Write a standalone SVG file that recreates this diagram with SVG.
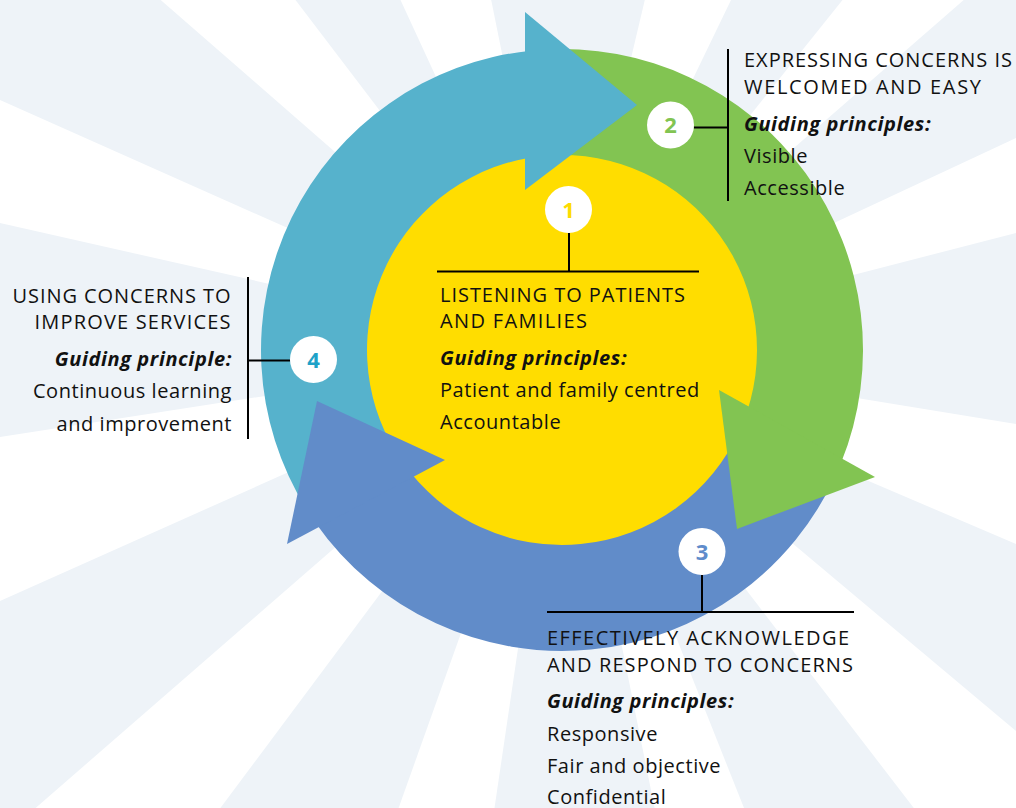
<svg xmlns="http://www.w3.org/2000/svg" width="1016" height="808" viewBox="0 0 1016 808">
  <defs>
    <style>
      .ray { fill: #eef3f8; }
      .lead { stroke: #000; stroke-width: 2; fill: none; }
      .badge { fill: #fff; }
      .num { font-family: "Open Sans", "Noto Sans", sans-serif; font-size: 22px; font-weight: bold; text-anchor: middle; }
      .txt { font-family: "Open Sans", "Noto Sans", sans-serif; font-size: 20px; fill: #111; }
      .head { letter-spacing: 1px; }
      .body { letter-spacing: 0.55px; }
      .gp { font-weight: bold; font-style: italic; letter-spacing: 0.6px; }
      .end { text-anchor: end; }
    </style>
  </defs>

  <rect width="1016" height="808" fill="#fff"/>

  <!-- sunburst background -->
  <g id="rays">
    <polygon class="ray" points="562,350 963.7,0 1016,0 1016,138"/>
    <polygon class="ray" points="562,350 1016,233 1016,424"/>
    <polygon class="ray" points="562,350 1016,544 1016,731"/>
    <polygon class="ray" points="562,350 913.8,808 744,808"/>
    <polygon class="ray" points="562,350 654.6,808 494.5,808"/>
    <polygon class="ray" points="562,350 398.6,808 220.4,808"/>
    <polygon class="ray" points="562,350 35.6,808 0,808 0,601"/>
    <polygon class="ray" points="562,350 0,437 0,223"/>
    <polygon class="ray" points="562,350 0,100 0,0 160.7,0"/>
    <polygon class="ray" points="562,350 295.5,0 400.5,0"/>
    <polygon class="ray" points="562,350 491.2,0 644.8,0"/>
    <polygon class="ray" points="562,350 731,0 842.5,0"/>
  </g>

  <!-- centre disc -->
  <circle id="core" cx="562" cy="350" r="196" fill="#ffdd00"/>

  <!-- cycle ring: three arc bands, then their arrowheads -->
  <g id="ring">
    <path fill="#56b2cc" d="M306.74,509.51 A301,301 0 0 1 530.54,50.65 L541.62,156.07 A195,195 0 0 0 396.63,453.33 Z"/>
    <path fill="#82c452" d="M541.00,49.73 A301,301 0 0 1 841.08,462.76 L742.80,423.05 A195,195 0 0 0 548.40,155.47 Z"/>
    <path fill="#618cc9" d="M836.98,472.43 A301,301 0 0 1 315.44,522.65 L402.27,461.85 A195,195 0 0 0 740.14,429.31 Z"/>
    <polygon fill="#56b2cc" points="525,12 637,105 525,190"/>
    <polygon fill="#82c452" points="719,390 875,477 737,529"/>
    <polygon fill="#618cc9" points="445,460 287,544 317,401"/>
  </g>

  <!-- leader lines from badges to their captions -->
  <g id="connectors">
    <path class="lead" d="M569,233 V271.5 M437,271.5 H699"/>
    <path class="lead" d="M694,127.5 H728 M728,49 V201"/>
    <path class="lead" d="M702,575 V612 M547,612 H854"/>
    <path class="lead" d="M290,360.5 H248 M248,277 V439"/>
  </g>

  <g id="node-1">
    <circle class="badge" cx="568.5" cy="209.5" r="23.5"/>
    <text class="num" x="568.5" y="217.5" fill="#fddc00">1</text>
    <text class="txt head" x="440" y="301.5" textLength="246" lengthAdjust="spacing">LISTENING TO PATIENTS</text>
    <text class="txt head" x="440" y="328" textLength="148" lengthAdjust="spacing">AND FAMILIES</text>
    <text class="txt gp" x="440" y="365">Guiding principles:</text>
    <text class="txt body" x="440" y="397">Patient and family centred</text>
    <text class="txt body" x="440" y="429">Accountable</text>
  </g>

  <g id="node-2">
    <circle class="badge" cx="670.5" cy="125" r="23.5"/>
    <text class="num" x="670.5" y="133" fill="#82c452">2</text>
    <text class="txt head" x="744" y="66.5" textLength="269" lengthAdjust="spacing">EXPRESSING CONCERNS IS</text>
    <text class="txt head" x="744" y="94" textLength="238" lengthAdjust="spacing">WELCOMED AND EASY</text>
    <text class="txt gp" x="744" y="130.5">Guiding principles:</text>
    <text class="txt body" x="744" y="162.5">Visible</text>
    <text class="txt body" x="744" y="194.5">Accessible</text>
  </g>

  <g id="node-3">
    <circle class="badge" cx="702" cy="551.5" r="23.5"/>
    <text class="num" x="702" y="559.5" fill="#5f8ccb">3</text>
    <text class="txt head" x="547" y="644.5" textLength="303" lengthAdjust="spacing">EFFECTIVELY ACKNOWLEDGE</text>
    <text class="txt head" x="547" y="671.5" textLength="307" lengthAdjust="spacing">AND RESPOND TO CONCERNS</text>
    <text class="txt gp" x="547" y="708">Guiding principles:</text>
    <text class="txt body" x="547" y="740.5">Responsive</text>
    <text class="txt body" x="547" y="772.5">Fair and objective</text>
    <text class="txt body" x="547" y="804">Confidential</text>
  </g>

  <g id="node-4">
    <circle class="badge" cx="313.5" cy="359.5" r="23.5"/>
    <text class="num" x="313.5" y="367.5" fill="#1ea2c8">4</text>
    <text class="txt head end" x="231.5" y="302.5" textLength="219" lengthAdjust="spacing">USING CONCERNS TO</text>
    <text class="txt head end" x="231.5" y="328.5" textLength="197" lengthAdjust="spacing">IMPROVE SERVICES</text>
    <text class="txt gp end" x="232" y="366">Guiding principle:</text>
    <text class="txt body end" x="232" y="398">Continuous learning</text>
    <text class="txt body end" x="232" y="430.5">and improvement</text>
  </g>
</svg>
